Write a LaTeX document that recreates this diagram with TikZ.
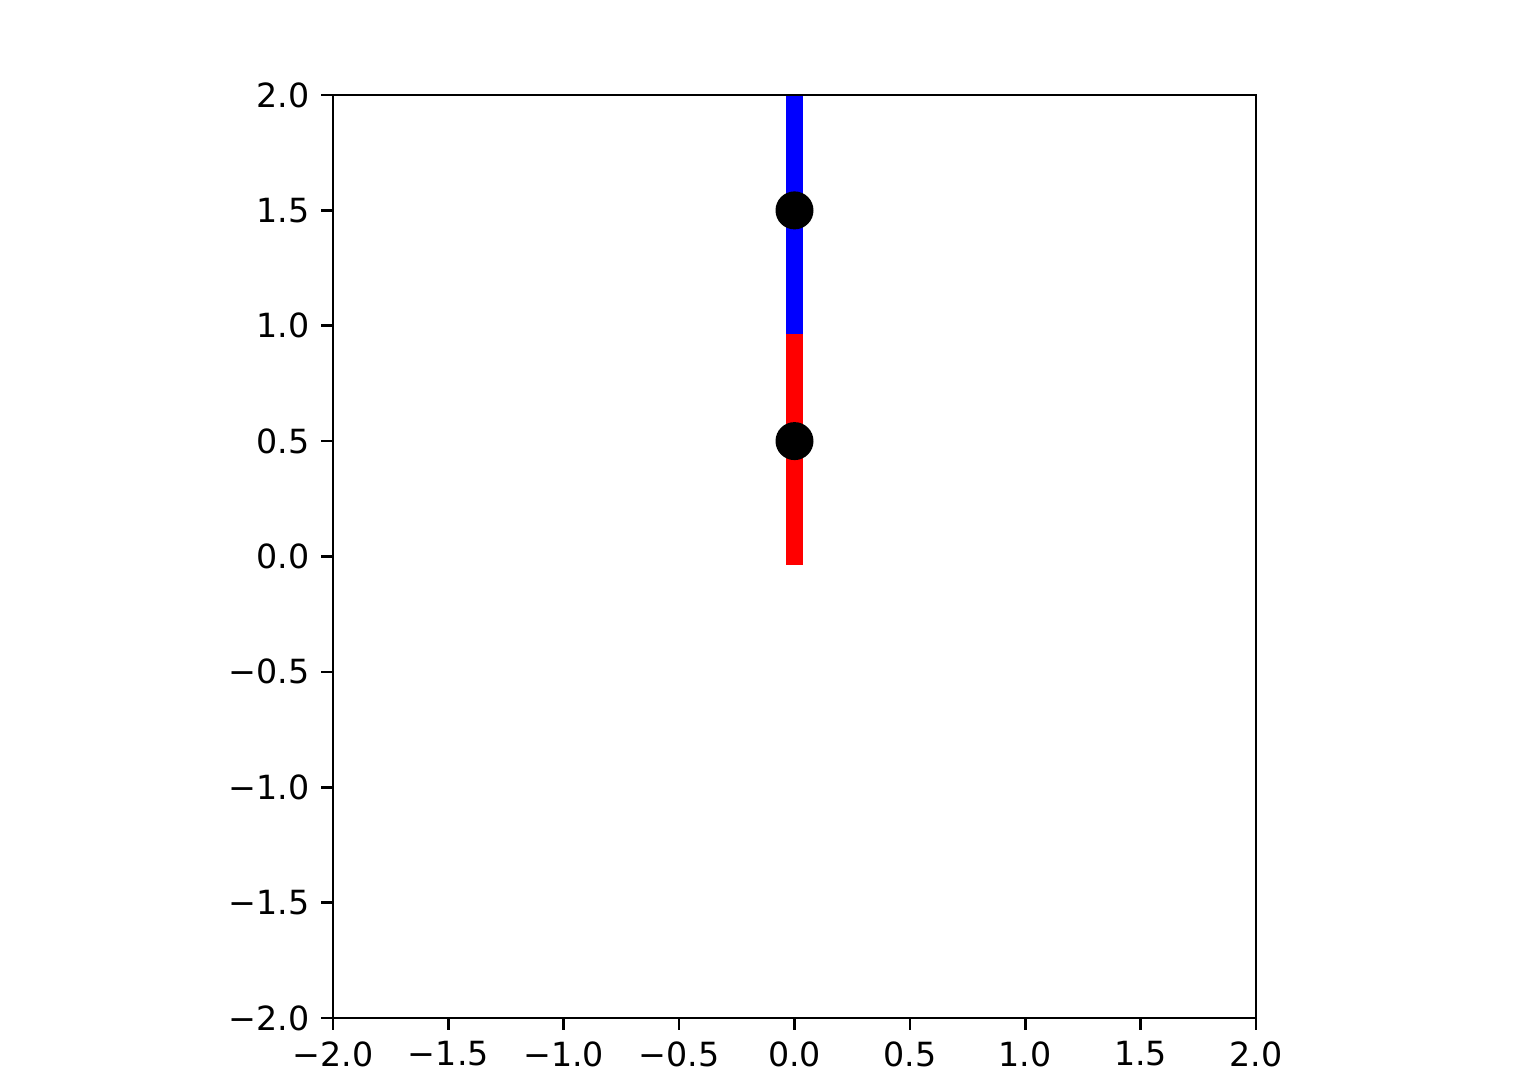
\documentclass[tikz,border=0pt]{standalone}
\usepackage{fontspec}
\setmainfont{DejaVu Sans}
\begin{document}
\begin{tikzpicture}[x=1pt,y=-1pt,
  axisline/.style={line width=2.67pt,black},
  tickmark/.style={line width=2.67pt,black},
  ticklabel/.style={font=\fontsize{33.3}{40}\selectfont,inner sep=0pt},
  seg/.style={line width=17pt,line cap=rect},
  dot/.style={circle,fill=black,minimum size=38pt,inner sep=0pt}]
\useasboundingbox (0,0) rectangle (1535,1083);
% data -> px: X = 794.5 + 230.75*x, Y = 556.5 - 230.75*y
\begin{scope}
\clip (333,95) rectangle (1256,1018);
\draw[seg,red] (794.5,556.5) -- (794.5,325.75);
\draw[seg,blue] (794.5,325.75) -- (794.5,95);
\end{scope}
\node[dot] (d1) at (794.5,441.1) {};
\node[dot] (d2) at (794.5,210.4) {};
% axes frame
\draw[axisline,line cap=rect] (333,95) rectangle (1256,1018);
% x ticks
\foreach \v/\t in {-2/{−2.0},-1.5/{−1.5},-1/{−1.0},-0.5/{−0.5},0/{0.0},0.5/{0.5},1/{1.0},1.5/{1.5},2/{2.0}}{
  \pgfmathsetmacro{\px}{794.5+230.75*\v}
  \draw[tickmark] (\px,1018) -- (\px,1029.7);
  \node[ticklabel,anchor=north] at (\px,1041.4) {\t};
}
% y ticks
\foreach \v/\t in {-2/{−2.0},-1.5/{−1.5},-1/{−1.0},-0.5/{−0.5},0/{0.0},0.5/{0.5},1/{1.0},1.5/{1.5},2/{2.0}}{
  \pgfmathsetmacro{\py}{556.5-230.75*\v}
  \draw[tickmark] (333,\py) -- (321.3,\py);
  \node[ticklabel,anchor=east] at (309.6,\py) {\t};
}
\end{tikzpicture}
\end{document}
